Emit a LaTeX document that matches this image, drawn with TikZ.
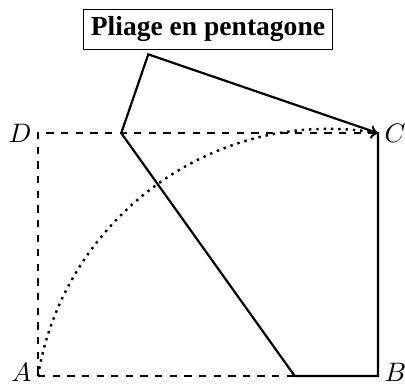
\documentclass[tikz,border=0pt]{standalone}
\usepackage{fontspec}
\setmainfont{Liberation Serif}
\usetikzlibrary{calc}
\begin{document}
\begin{tikzpicture}[
    scale=0.7,
    font=\fontsize{11.3}{13.6}\selectfont,
    bord/.style={line width=0.9pt,dashed},
    pli/.style={line width=0.9pt},
    trajet/.style={line width=1pt,dotted,->},
    sommet/.style={inner sep=2.5pt},
    titre/.style={draw,thin,font=\fontsize{11.3}{13.6}\selectfont\bfseries,inner sep=3pt}]
  \useasboundingbox (-0.782,-0.185) rectangle (7.556,7.741);

  % ---- la feuille (en pointilles) ------------------------------------------
  \coordinate (A) at (0,0);
  \coordinate (B) at (7,0);
  \coordinate (C) at (7,5);
  \coordinate (D) at (0,5);
  \draw[bord] (A) -- (B) -- (C) -- (D) -- cycle;

  % ---- le pli : A vient sur C -----------------------------------------------
  \coordinate (P) at (37/7,0);                 % pli sur [AB]
  \coordinate (Q) at (12/7,5);                 % pli sur [DC]
  \coordinate (F) at ($(Q)!(D)!(P)$);          % projete de D sur le pli
  \coordinate (D') at ($(D)!2!(F)$);           % image de D
  \draw[pli] (B) -- (C) -- (D') -- (Q) -- (P) -- cycle;

  % ---- trajet de A ----------------------------------------------------------
  \draw[trajet] (A) to[bend left=45] (C);

  % ---- les sommets ----------------------------------------------------------
  \node[sommet,left,yshift=1.5pt]  (lA) at (A) {$A$};
  \node[sommet,right,yshift=1.5pt] (lB) at (B) {$B$};
  \node[sommet,right] (lC) at (C) {$C$};
  \node[sommet,left]  (lD) at (D) {$D$};

  \node[titre] (titre) at (3.5,7.14) {Pliage en pentagone};

\end{tikzpicture}
\end{document}
